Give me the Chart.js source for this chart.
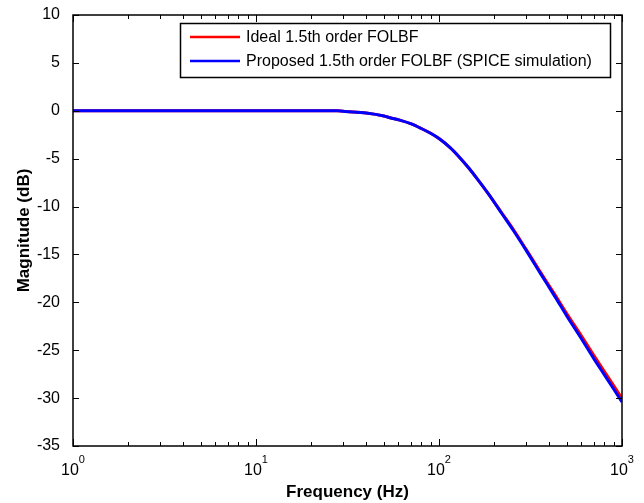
<!DOCTYPE html>
<html>
<head>
<meta charset="utf-8">
<script src="https://cdn.jsdelivr.net/npm/chart.js@4.4.0/dist/chart.umd.min.js"></script>
<style>
  body { margin: 0; background: #fff; }
  #wrap { width: 644px; height: 503px; }
</style>
</head>
<body>
<div id="wrap"><canvas id="bode" width="644" height="503"></canvas></div>
<script>
// frequency points (Hz) and magnitude (dB)
const freqs = [1, 2, 5, 10, 20, 28, 31, 40, 50, 54, 61, 70, 80, 90, 100, 115, 130, 145, 161, 190, 220, 255, 300, 356, 430, 500, 600, 700, 800, 900, 1000];
const idealDb = [0, 0, 0, 0, 0, 0, -0.07, -0.24, -0.55, -0.73, -0.98, -1.35, -1.85, -2.35, -2.9, -3.85, -4.9, -5.95, -7.05, -8.9, -10.65, -12.4, -14.5, -16.75, -19.2, -21.2, -23.5, -25.5, -27.2, -28.7, -30.0];
const spiceDb = [0, 0, 0, 0, 0, 0, -0.07, -0.24, -0.55, -0.73, -0.98, -1.35, -1.85, -2.35, -2.9, -3.85, -4.9, -5.95, -7.05, -8.9, -10.7, -12.5, -14.6, -16.9, -19.4, -21.45, -23.8, -25.85, -27.55, -29.05, -30.4];
const seriesNames = ['Ideal 1.5th order FOLBF', 'Proposed 1.5th order FOLBF (SPICE simulation)'];
const seriesColors = ['#ff0000', '#0000ff'];
const yTicks = [10, 5, 0, -5, -10, -15, -20, -25, -30, -35];
const xDecades = [0, 1, 2, 3];

const FONT = '"Liberation Sans", Arial, sans-serif';

function toPoints(ys) {
    return freqs.map((f, i) => ({ x: f, y: ys[i] }));
}

// MATLAB-like box with inward ticks on all four sides
const boxTicks = {
    id: 'boxTicks',
    afterDatasetsDraw(chart) {
        const { ctx, chartArea: a, scales } = chart;
        ctx.save();
        ctx.strokeStyle = '#000';
        ctx.lineWidth = 1;
        ctx.beginPath();
        yTicks.forEach(v => {
            const y = Math.round(scales.y.getPixelForValue(v)) + 0.5;
            ctx.moveTo(a.left, y); ctx.lineTo(a.left + 6, y);
            ctx.moveTo(a.right, y); ctx.lineTo(a.right - 6, y);
        });
        for (let d = 1; d < 1000; d *= 10) {
            for (let k = 1; k <= 10; k++) {
                const x = Math.round(scales.x.getPixelForValue(d * k)) + 0.5;
                const len = (k === 1 || k === 10) ? 7 : 4;
                ctx.moveTo(x, a.bottom); ctx.lineTo(x, a.bottom - len);
                ctx.moveTo(x, a.top); ctx.lineTo(x, a.top + len);
            }
        }
        ctx.stroke();
        ctx.lineWidth = 1.5;
        ctx.strokeRect(a.left, a.top, a.right - a.left, a.bottom - a.top);
        ctx.restore();
    }
};

// decade labels with raised exponents, axis titles, legend
const labels = {
    id: 'labels',
    afterDraw(chart) {
        const { ctx, chartArea: a, scales } = chart;
        ctx.save();
        ctx.fillStyle = '#000';
        ctx.textBaseline = 'alphabetic';
        ctx.textAlign = 'left';
        xDecades.forEach(e => {
            const x = scales.x.getPixelForValue(Math.pow(10, e));
            ctx.font = '16px ' + FONT;
            const wb = ctx.measureText('10').width;
            ctx.font = '11px ' + FONT;
            const we = ctx.measureText(String(e)).width;
            const x0 = x - (wb + we) / 2;
            ctx.font = '16px ' + FONT;
            ctx.fillText('10', x0, a.bottom + 29);
            ctx.font = '11px ' + FONT;
            ctx.fillText(String(e), x0 + wb, a.bottom + 17);
        });

        ctx.font = 'bold 17px ' + FONT;
        ctx.textAlign = 'center';
        ctx.fillText('Frequency (Hz)', (a.left + a.right) / 2, 497);
        ctx.save();
        ctx.translate(29, (a.top + a.bottom) / 2);
        ctx.rotate(-Math.PI / 2);
        ctx.fillText('Magnitude (dB)', 0, 0);
        ctx.restore();

        // legend box
        const lx = 180, ly = 23, lw = 430, lh = 54;
        ctx.fillStyle = '#fff';
        ctx.fillRect(lx, ly, lw, lh);
        ctx.strokeStyle = '#000';
        ctx.lineWidth = 1.5;
        ctx.strokeRect(lx + 0.5, ly + 0.5, lw, lh);
        ctx.font = '16px ' + FONT;
        ctx.textAlign = 'left';
        ctx.textBaseline = 'middle';
        seriesNames.forEach((name, i) => {
            const y = ly + 14 + i * 24;
            ctx.strokeStyle = seriesColors[i];
            ctx.lineWidth = 2.5;
            ctx.beginPath();
            ctx.moveTo(lx + 10, y); ctx.lineTo(lx + 60, y);
            ctx.stroke();
            ctx.fillStyle = '#000';
            ctx.fillText(name, lx + 66, y + 1);
        });
        ctx.restore();
    }
};

new Chart(document.getElementById('bode'), {
    type: 'line',
    data: {
        datasets: [
            { label: seriesNames[0], data: toPoints(idealDb), borderColor: seriesColors[0], borderWidth: 3, pointRadius: 0, cubicInterpolationMode: 'monotone', order: 1 },
            { label: seriesNames[1], data: toPoints(spiceDb), borderColor: seriesColors[1], borderWidth: 3, pointRadius: 0, cubicInterpolationMode: 'monotone', order: 0 }
        ]
    },
    options: {
        responsive: false,
        animation: false,
        layout: { padding: { left: 0, right: 22, top: 15, bottom: 0 } },
        plugins: { legend: { display: false }, tooltip: { enabled: false } },
        scales: {
            x: {
                type: 'logarithmic',
                min: 1,
                max: 1000,
                grid: { display: false },
                border: { display: false },
                ticks: { display: false },
                afterFit: s => { s.height = 57; }
            },
            y: {
                min: -35,
                max: 10,
                grid: { display: false },
                border: { display: false },
                ticks: {
                    stepSize: 5,
                    color: '#000',
                    padding: 5,
                    font: { family: FONT, size: 16 }
                },
                afterFit: s => { s.width = 73; }
            }
        }
    },
    plugins: [boxTicks, labels]
});
</script>
</body>
</html>
